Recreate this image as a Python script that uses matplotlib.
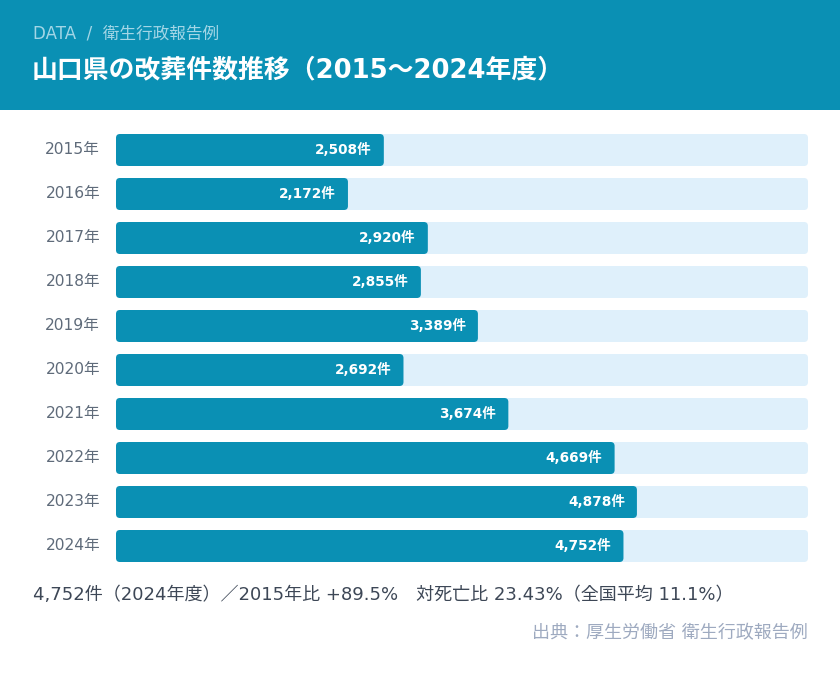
import matplotlib
matplotlib.use("Agg")
import matplotlib.pyplot as plt
from matplotlib.patches import FancyBboxPatch, Rectangle

plt.rcParams['font.family'] = ['DejaVu Sans', 'Noto Sans CJK JP']

years = ["2015年", "2016年", "2017年", "2018年", "2019年", "2020年", "2021年", "2022年", "2023年", "2024年"]
values = [2508, 2172, 2920, 2855, 3389, 2692, 3674, 4669, 4878, 4752]
xmax = 6480

title = "山口県の改葬件数推移（2015〜2024年度）"
subtitle = "DATA  /  衛生行政報告例"
summary = "4,752件（2024年度）／2015年比 +89.5%　対死亡比 23.43%（全国平均 11.1%）"
source = "出典：厚生労働省 衛生行政報告例"

W, H = 840, 676
fig = plt.figure(figsize=(W/100, H/100), dpi=100)
fig.patch.set_facecolor("white")

teal = "#0a90b4"
track = "#dff0fb"

# header band
fig.patches.append(Rectangle((0, 1 - 110/H), 1, 110/H, transform=fig.transFigure,
                             facecolor=teal, edgecolor="none", zorder=0))
fig.text(33/W, 1 - 34/H, subtitle, color="#a3d6e6", fontsize=12, va="center", ha="left")
fig.text(32/W, 1 - 70/H, title, color="white", fontsize=18.6, fontweight="bold", va="center", ha="left")

# bar axes
top, bottom = 128, 568
left, right = 116, 808
ax = fig.add_axes([left/W, 1 - bottom/H, (right-left)/W, (bottom-top)/H])
ax.set_xlim(0, xmax)
ax.set_ylim(len(years) - 0.5, -0.5)
ax.axis("off")

row_px = (bottom - top) / len(years)
bh = 32 / row_px
xu = xmax / (right - left)
yu = 1 / row_px
r = 4 * xu
aspect = yu / xu

for i, (y, v) in enumerate(zip(years, values)):
    ax.add_patch(FancyBboxPatch((0, i - bh/2), xmax, bh,
                                boxstyle=f"round,pad=0,rounding_size={r}",
                                mutation_aspect=aspect, facecolor=track, edgecolor="none"))
    ax.add_patch(FancyBboxPatch((0, i - bh/2), v, bh,
                                boxstyle=f"round,pad=0,rounding_size={r}",
                                mutation_aspect=aspect, facecolor=teal, edgecolor="none"))
    ax.text(v - 12 * xu, i, f"{v:,}件", color="white", fontsize=9.8, fontweight="bold",
            ha="right", va="center")
    ax.text(-16 * xu, i, y, color="#5f6b7a", fontsize=11.2, ha="right", va="center", clip_on=False)

fig.text(33/W, 1 - 595/H, summary, color="#3d4756", fontsize=13, va="center", ha="left")
fig.text(808/W, 1 - 633/H, source, color="#9eaac0", fontsize=13, va="center", ha="right")

fig.savefig("out.png", dpi=100, facecolor="white")
